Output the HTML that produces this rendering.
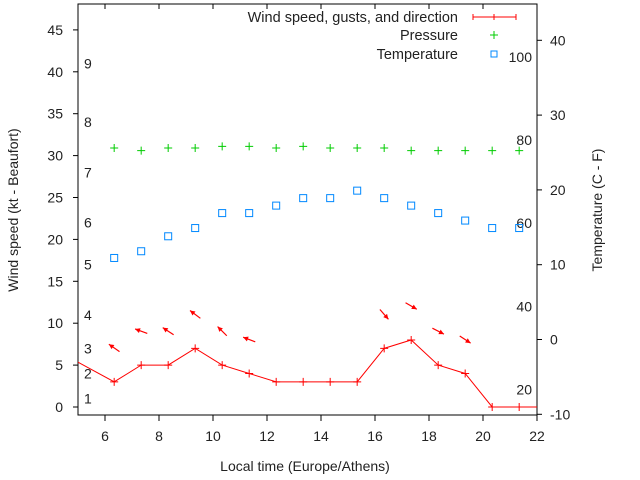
<!DOCTYPE html>
<html><head><meta charset="utf-8"><style>
body{margin:0;background:#fff}
svg{display:block;font-family:"Liberation Sans",sans-serif;font-size:14px;fill:#222}
</style></head><body>
<svg id="chart" width="640" height="480" viewBox="0 0 640 480" xmlns="http://www.w3.org/2000/svg">
<g id="axes"></g>
<g id="marks"></g>
<g id="legend"></g>
<text transform="translate(18,210) rotate(-90)" text-anchor="middle">Wind speed (kt - Beaufort)</text>
<text transform="translate(602,210) rotate(-90)" text-anchor="middle">Temperature (C - F)</text>
<text x="305" y="471" text-anchor="middle">Local time (Europe/Athens)</text>
</svg>
<script>
const hours = [4.34,6.34,7.34,8.34,9.34,10.34,11.34,12.34,13.34,14.34,15.34,16.34,17.34,18.34,19.34,20.34,21.34,22.34];
const wind = [6.5,3,5,5,7,5,4,3,3,3,3,7,8,5,4,0,0,0];
const windDir = [null,305,290,303,307,315,291,null,null,null,null,139,120,117,123,null,null,null];
const obsHours = [6.34,7.34,8.34,9.34,10.34,11.34,12.34,13.34,14.34,15.34,16.34,17.34,18.34,19.34,20.34,21.34];
const pressure = [30.9,30.6,30.9,30.9,31.1,31.1,30.9,31.1,30.9,30.9,30.9,30.6,30.6,30.6,30.6,30.6];
const temperature = [10.9,11.8,13.8,14.9,16.9,16.9,17.9,18.9,18.9,19.9,18.9,17.9,16.9,15.9,14.9,14.9];
const xTicks = [6,8,10,12,14,16,18,20,22];
const yTicks = [0,5,10,15,20,25,30,35,40,45];
const y2Ticks = [-10,0,10,20,30,40];
const beaufortKt = [1,4,7,11,17,22,28,34,41];
const beaufortLabels = ["1","2","3","4","5","6","7","8","9"];
const fahrenheit = [20,40,60,80,100];

const L=78,R=537,T=4,B=415;
const X=h=>L+(h-5)*27;
const Y=v=>407-v*8.38;
const Y2=c=>339.5-c*7.48;
const NS='http://www.w3.org/2000/svg';
function mk(p,tag,attrs){const e=document.createElementNS(NS,tag);for(const k in attrs)e.setAttribute(k,attrs[k]);p.appendChild(e);return e;}
const axes=document.getElementById('axes'),marks=document.getElementById('marks'),legend=document.getElementById('legend');

const frame=mk(axes,'rect',{x:L,y:T,width:R-L,height:B-T,fill:'none',stroke:'#000','stroke-width':1});


xTicks.forEach(t=>{
  const x=X(t);
  const tk=mk(axes,'path',{d:`M${x},${B}v6M${x},${T}v5`,stroke:'#000'});
  
  
  const tx=mk(axes,'text',{x:x,y:441,'text-anchor':'middle'});tx.textContent=t;
  
  
});
yTicks.forEach(t=>{
  const y=Y(t);
  const tk=mk(axes,'path',{d:`M${L-5},${y}h5`,stroke:'#000'});
  
  
  const tx=mk(axes,'text',{x:63,y:y+5,'text-anchor':'end'});tx.textContent=t;
  
  
});
y2Ticks.forEach(t=>{
  const y=Y2(t);
  const tk=mk(axes,'path',{d:`M${R},${y}h5`,stroke:'#000'});
  
  
  const tx=mk(axes,'text',{x:550,y:y+5,'text-anchor':'start'});tx.textContent=t;
  
  
});
beaufortKt.forEach((k,i)=>{
  const tx=mk(axes,'text',{x:84,y:Y(k)+5});tx.textContent=beaufortLabels[i];
  
  
});
fahrenheit.forEach(f=>{
  const tx=mk(axes,'text',{x:532,y:Y2((f-32)*5/9)+5,'text-anchor':'end'});tx.textContent=f;
  
  
});

const defs=mk(marks,'defs',{});
const cp=mk(defs,'clipPath',{id:'clip'});mk(cp,'rect',{x:L,y:T,width:R-L,height:B-T});
const g=mk(marks,'g',{'clip-path':'url(#clip)'});

const wl=mk(g,'polyline',{points:hours.map((h,i)=>X(h)+','+Y(wind[i])).join(' '),fill:'none',stroke:'#f00','stroke-width':1});


hours.forEach((h,i)=>{
  const x=X(h),y=Y(wind[i]);
  const p=mk(g,'path',{d:`M${x-4},${y}h8M${x},${y-4}v8`,stroke:'#f00'});
  
  
  const d=windDir[i];
  if(d!==null){
    const cx=x,cy=Y(wind[i]+4.05),a=d*Math.PI/180,dx=Math.sin(a),dy=-Math.cos(a),len=6.5;
    const hx=cx+dx*len,hy=cy+dy*len,tx=cx-dx*len,ty=cy-dy*len;
    const px=-dy,py=dx,bx=hx-dx*5,by=hy-dy*5;
    const ar=mk(g,'g',{});
    
    
    mk(ar,'line',{x1:tx,y1:ty,x2:hx,y2:hy,stroke:'#f00','stroke-width':1.2});
    mk(ar,'polygon',{points:`${hx},${hy} ${bx+px*2.5},${by+py*2.5} ${bx-px*2.5},${by-py*2.5}`,fill:'#f00'});
  }
});
obsHours.forEach((h,i)=>{
  const x=X(h),y=Y(pressure[i]);
  const p=mk(g,'path',{d:`M${x-4},${y}h8M${x},${y-4}v8`,stroke:'#0c0'});
  
  
  const ty=Y2(temperature[i]);
  const r=mk(g,'rect',{x:x-3.5,y:ty-3.5,width:7,height:7,fill:'none',stroke:'#08f','stroke-width':1});
  
  
});

const items=[['Wind speed, gusts, and direction',17],['Pressure',35],['Temperature',54]];
items.forEach(([t,y],i)=>{
  const tx=mk(legend,'text',{x:458,y:y+5,'text-anchor':'end','font-size':'14.5px'});tx.textContent=t;
  
  
});
mk(legend,'path',{d:'M473,17h43M473,14v6M494,14v6M516,14v6',stroke:'#f00'});
mk(legend,'path',{d:'M490,35h8M494,31v8',stroke:'#0c0'});
mk(legend,'rect',{x:491,y:51,width:6,height:6,fill:'none',stroke:'#08f'});
</script>
</body></html>
